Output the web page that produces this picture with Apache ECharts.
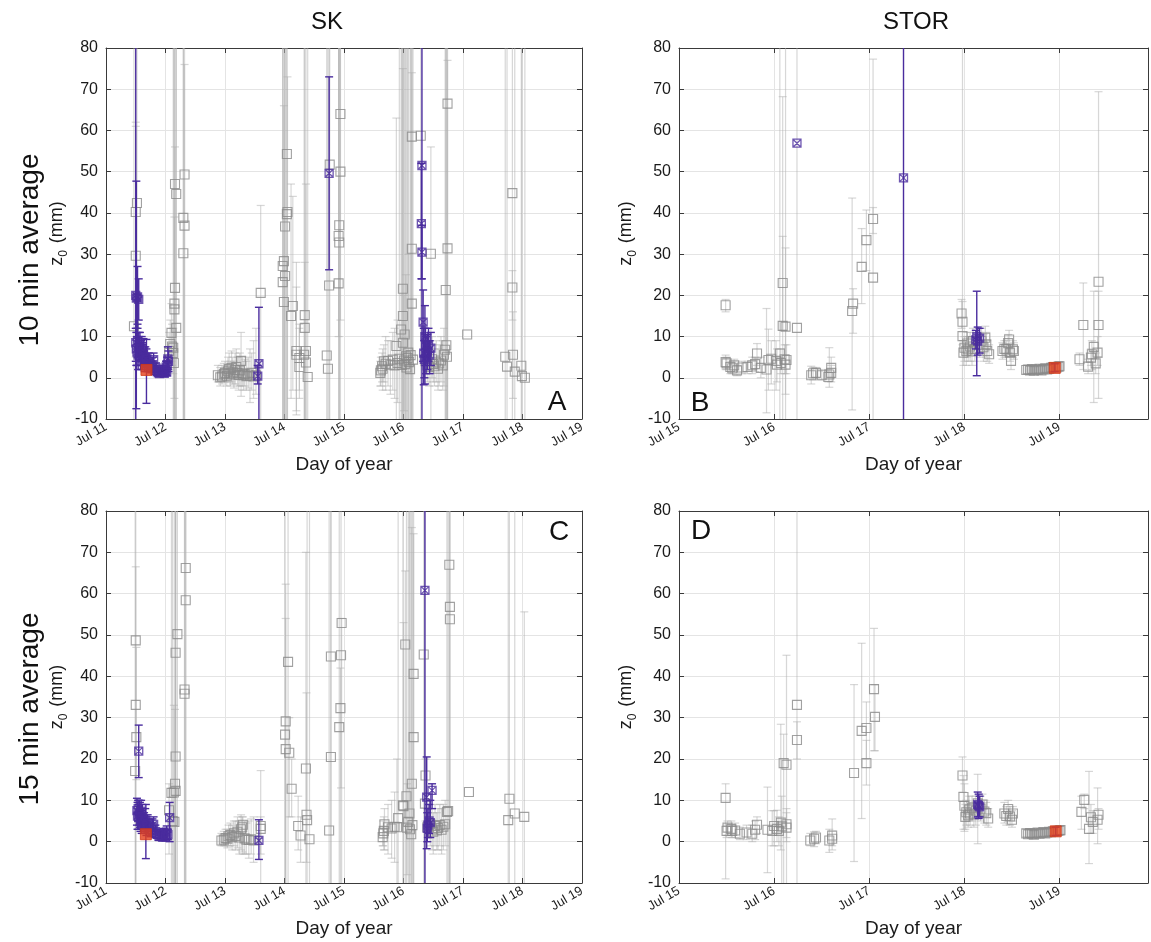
<!DOCTYPE html>
<html>
<head>
<meta charset="utf-8">
<script src="https://cdn.jsdelivr.net/npm/echarts@6/dist/echarts.min.js"></script>
<style>
  html, body { margin: 0; padding: 0; background: #ffffff; }
  #chart { width: 1151px; height: 942px; }
</style>
</head>
<body>
<div id="chart"></div>
<script>
// Roughness length z0 (mm) against day of July, with error bars.
// Each row: [day of July, z0, lower bound, upper bound]

// ---- SK, 10 min average ----
const skTenGrey = [
  [11.47, 12.5, -20, 200], [11.50, 40.2, -20, 61], [11.52, 42.4, 10, 200], [11.50, 29.6, 5, 62],
  [12.06, 6.5, 2, 11], [12.08, 8.2, 3, 14], [12.10, 10.9, 4, 18], [12.11, 7.6, 3, 13],
  [12.13, 7.3, -20, 200], [12.13, 6.0, 1, 12], [12.14, 3.6, -20, 200], [12.15, 18.0, -20, 200],
  [12.15, 16.6, -5, 39], [12.16, 21.8, -20, 56], [12.16, 47.0, -20, 200], [12.18, 44.6, -20, 200],
  [12.18, 12.1, -20, 200], [12.30, 30.2, -20, 200], [12.30, 38.8, -20, 200], [12.32, 36.9, -20, 76],
  [12.32, 49.3, -20, 200],
  [12.88, 0.6, -1, 3], [12.92, 0.1, -2, 2.5], [12.95, 0.3, -1.5, 3], [12.98, 0.9, -1, 3.5],
  [13.00, 1.2, -0.5, 4], [13.03, 0.5, -2, 3], [13.05, 1.6, -1, 5], [13.07, 2.1, -1, 6],
  [13.09, 1.0, -2, 4], [13.11, 2.4, -1, 6.5], [13.13, 1.3, -1.5, 5], [13.15, 0.8, -2.5, 4],
  [13.17, 1.9, -1.5, 6], [13.19, 2.6, -0.5, 7], [13.21, 1.2, -2, 5], [13.23, 0.7, -3, 5],
  [13.25, 1.8, -2, 6], [13.27, 4.1, -4.5, 11], [13.29, 1.1, -2, 5], [13.31, 0.6, -3, 4],
  [13.33, 0.9, -2, 4.5], [13.36, 0.4, -3, 4], [13.39, 0.8, -2.5, 5], [13.42, 0.5, -6, 7],
  [13.45, 1.2, -3, 6], [13.48, 0.3, -5, 9], [13.52, 0.6, -4, 12], [13.60, 20.6, -20, 41.8],
  [13.97, 27.1, -20, 200], [13.99, 28.3, -20, 66], [14.01, 24.7, -20, 200], [13.97, 23.2, -20, 200],
  [13.99, 18.4, -20, 200], [14.01, 36.7, -20, 200], [14.04, 39.7, -20, 200], [14.05, 40.2, -20, 73],
  [14.04, 54.3, -20, 200], [14.11, 15.0, -5, 47], [14.14, 17.4, -3, 44], [14.20, 6.5, -8, 22],
  [14.20, 5.6, -9, 28], [14.25, 4.8, -3, 13], [14.25, 2.6, -5, 12], [14.33, 5.6, -20, 200],
  [14.34, 15.2, -20, 200], [14.34, 12.1, -20, 28], [14.36, 6.5, -20, 47], [14.36, 3.7, -20, 200],
  [14.39, 0.2, -20, 200],
  [14.71, 5.4, -20, 200], [14.73, 2.2, -20, 200], [14.75, 22.4, -20, 200], [14.76, 51.7, -20, 200],
  [14.91, 22.9, -20, 200], [14.91, 34.4, 10, 200], [14.92, 32.8, -20, 200], [14.92, 37.0, -20, 200],
  [14.94, 50.0, -20, 200], [14.94, 64.0, 14, 200],
  [15.61, 1.2, -2, 4], [15.62, 1.8, -2, 5], [15.64, 2.8, -1, 6], [15.65, 2.2, -3, 7],
  [15.67, 4.0, -1, 8], [15.70, 3.4, -3, 10], [15.74, 4.1, -2, 9], [15.78, 3.2, -4, 9],
  [15.82, 4.4, -3, 11], [15.85, 3.0, -5, 12], [15.88, 7.7, -20, 63], [15.90, 3.6, -6, 14],
  [15.93, 4.6, -20, 200], [15.96, 11.7, -20, 200], [15.97, 3.1, -20, 200], [15.99, 15.0, -20, 75],
  [15.99, 21.6, -20, 200], [15.99, 8.5, -20, 200], [16.01, 4.2, -8, 20], [16.02, 10.5, -20, 200],
  [16.03, 3.3, -20, 200], [16.04, 5.2, -10, 25], [16.05, 2.5, -20, 200], [16.07, 4.8, -20, 200],
  [16.08, 6.1, -20, 200], [16.09, 3.8, -12, 30], [16.11, 2.1, -20, 200], [16.12, 5.5, -20, 200],
  [16.14, 58.5, -20, 200], [16.14, 31.3, -20, 74], [16.14, 18.0, -20, 200], [16.16, 4.4, -20, 200],
  [16.29, 58.7, -20, 200],
  [16.37, 4.0, 0, 10], [16.40, 3.0, -1, 8], [16.43, 2.6, -2, 7], [16.46, 30.1, -20, 56],
  [16.48, 4.5, 0, 10], [16.50, 3.3, -1, 8], [16.52, 2.8, -2, 7], [16.55, 3.9, -1, 9],
  [16.58, 2.2, -3, 7], [16.60, 3.5, -2, 8], [16.63, 4.2, -1, 10], [16.66, 3.0, -3, 9],
  [16.68, 5.6, -2, 12], [16.70, 6.8, -20, 200], [16.71, 21.3, -20, 200], [16.72, 7.9, -20, 200],
  [16.73, 5.1, -20, 200], [16.74, 31.4, -20, 77], [16.74, 66.5, -20, 200], [17.07, 10.5, 10.5, 10.5],
  [17.71, 5.1, -20, 200], [17.74, 2.7, -20, 200], [17.83, 44.8, -20, 200], [17.83, 21.9, 14, 26],
  [17.84, 5.6, -5, 16], [17.87, 1.5, -20, 200], [17.98, 2.9, -20, 200], [17.99, 0.4, -20, 200],
  [18.04, 0.0, -20, 200]
];
const skTenSel = [
  [11.50, 20.0, -20, 200], [11.51, 19.3, -7.5, 47.7], [11.53, 19.6, 12, 27], [11.55, 19.0, 14, 24],
  [11.50, 8.5, 4, 12], [11.51, 7.0, 3, 11], [11.52, 6.2, 3, 10], [11.53, 9.0, 5, 13],
  [11.54, 5.5, 2, 9], [11.55, 7.5, 4, 11], [11.56, 6.8, 4, 10], [11.57, 8.2, 5, 11],
  [11.58, 5.0, 2, 8], [11.59, 6.0, 3, 9], [11.60, 7.2, 4, 10], [11.61, 4.8, 2, 8],
  [11.62, 5.6, 3, 8.5], [11.63, 6.5, 3.5, 9.5], [11.64, 4.2, 2, 6.5], [11.65, 3.8, 1.5, 6],
  [11.66, 5.0, 2.5, 7.5], [11.68, 4.5, 2, 7], [11.70, 3.5, 1.5, 5.5], [11.72, 4.0, 2, 6],
  [11.74, 3.0, 1.5, 4.5], [11.76, 2.6, 1.2, 4], [11.78, 3.2, 1.5, 5], [11.80, 4.4, 2.5, 6],
  [11.82, 1.8, 0.8, 3], [11.84, 2.4, 1.2, 3.6], [11.86, 1.5, 0.6, 2.5], [11.88, 1.2, 0.4, 2.2],
  [11.90, 1.0, 0.3, 2], [11.92, 1.6, 0.7, 2.6], [11.94, 1.3, 0.5, 2.3], [11.96, 2.0, 1, 3],
  [11.98, 1.1, 0.3, 2.1], [12.00, 1.8, 0.8, 3], [12.01, 2.6, 1.2, 4], [12.02, 1.4, 0.5, 2.5],
  [12.03, 3.2, 1.5, 5], [12.04, 4.6, 2, 7.5], [12.05, 4.0, 1.5, 6.5],
  [13.55, 0.4, -1.5, 3], [13.57, 3.4, -20, 17.1],
  [14.75, 49.6, 26.2, 73.0],
  [16.31, 51.5, -20, 200], [16.30, 37.4, 24, 52], [16.31, 30.5, 24, 37], [16.33, 13.5, 4, 21.3],
  [16.36, 10.0, -1.5, 17.5], [16.34, 6.0, -1.7, 12], [16.35, 4.5, 0, 9], [16.37, 7.8, 3, 12],
  [16.38, 5.2, 1, 10], [16.40, 6.4, 2, 10.5], [16.42, 8.0, 4, 12], [16.44, 5.5, 1, 9],
  [16.46, 7.2, 3, 11]
];
const skTenRef = [[11.68, 1.9, -6.2, 9.3]];

// ---- STOR, 10 min average ----
const storTenGrey = [
  [15.49, 17.6, 16, 19], [15.49, 3.8, 2, 5.5], [15.50, 3.5, 2, 5], [15.54, 2.6, 1, 4],
  [15.56, 2.3, 1, 3.8], [15.58, 3.0, 1.5, 4.5], [15.61, 1.8, 0.5, 3], [15.66, 2.5, 1, 4],
  [15.72, 2.6, 1, 4], [15.77, 3.0, 1, 5], [15.80, 3.3, 1.5, 5], [15.82, 5.9, 3, 8.3],
  [15.86, 2.4, 0, 5], [15.92, 2.0, -8.5, 16.8], [15.94, 4.3, -3, 11.8], [15.97, 4.6, -1.5, 9],
  [16.02, 4.1, -3, 9], [16.03, 3.2, -1, 7], [16.06, 5.9, -30, 200], [16.07, 3.6, 1, 7],
  [16.09, 23.0, 11.5, 34.3], [16.09, 12.6, -30, 68.2], [16.12, 12.4, -4, 31.5], [16.11, 4.5, 1, 8],
  [16.12, 3.2, -30, 200], [16.13, 4.3, 1, 8], [16.24, 12.1, -30, 200],
  [16.39, 0.6, -1.5, 2.8], [16.41, 1.1, -0.5, 2.5], [16.44, 1.2, 0, 2.5], [16.50, 0.6, -0.5, 2],
  [16.57, 0.2, -1, 2], [16.58, 0.8, -2.3, 7.3], [16.60, 2.4, 0, 5], [16.60, 1.2, -1, 3],
  [16.82, 16.2, -7.8, 43.6], [16.83, 18.0, 10.8, 21.6], [16.92, 26.9, 18, 36.2], [16.97, 33.4, 26, 40.7],
  [17.04, 38.5, 35, 41.3], [17.04, 24.3, -30, 77.3],
  [17.97, 15.6, 12, 19], [17.98, 13.6, 8, 18.5], [17.98, 10.1, -30, 200], [17.99, 6.1, 3, 9],
  [18.00, 7.3, 4, 10], [18.02, 6.5, 3, 10], [18.03, 8.3, 5, 11], [18.04, 6.9, 4, 10],
  [18.06, 7.6, 4, 11], [18.08, 6.4, 3, 10], [18.09, 8.9, 6, 12], [18.11, 7.0, 4, 10],
  [18.16, 8.0, 5, 11], [18.18, 9.0, 6, 12], [18.20, 7.4, 4, 10.5], [18.22, 9.7, 7, 12.5],
  [18.23, 8.1, 5, 11], [18.24, 6.5, 4, 9], [18.26, 5.7, 3.5, 8],
  [18.40, 6.5, 4.5, 8.5], [18.42, 7.0, 5, 9], [18.44, 6.9, 5, 9], [18.46, 8.4, 6, 10.5],
  [18.47, 9.3, 7, 11.5], [18.48, 6.1, 4, 8], [18.49, 4.1, 2, 6], [18.51, 6.9, 5, 9],
  [18.52, 6.5, 4.5, 8.5],
  [18.65, 1.9, 1, 3], [18.67, 2.0, 1, 3], [18.69, 1.8, 1, 2.8], [18.71, 2.1, 1.2, 3],
  [18.73, 1.7, 0.9, 2.6], [18.75, 2.0, 1.1, 3], [18.77, 1.9, 1, 2.8], [18.79, 2.2, 1.2, 3.2],
  [18.81, 1.8, 1, 2.7], [18.83, 2.1, 1.2, 3], [18.85, 2.3, 1.4, 3.2], [18.87, 2.0, 1.1, 3],
  [18.89, 2.2, 1.3, 3.2], [18.91, 2.4, 1.5, 3.4], [18.93, 2.6, 1.6, 3.6], [18.97, 2.5, 1.5, 3.5],
  [18.99, 2.7, 1.7, 3.8], [19.00, 2.8, 1.8, 3.9],
  [19.21, 4.5, 3, 6], [19.25, 12.8, 2, 23], [19.30, 2.7, 1, 4.5], [19.33, 4.9, 3, 7],
  [19.34, 5.7, 2, 9], [19.36, 7.5, -6, 21], [19.38, 3.5, 1, 6], [19.40, 6.1, 3, 10],
  [19.41, 12.8, 5, 21], [19.41, 23.3, -5, 69.4]
];
const storTenSel = [
  [16.24, 56.9, 56.9, 56.9], [17.36, 48.5, -30, 200],
  [18.13, 10.0, 0.5, 21], [18.14, 8.9, 5.5, 12.3], [18.16, 9.6, 6, 12], [18.12, 9.2, 7, 11.5]
];
const storTenRef = [[18.95, 2.4, 1.5, 3.4]];

// ---- SK, 15 min average ----
const skFifteenGrey = [
  [11.49, 17.1, -20, 200], [11.50, 33.1, -20, 66.5], [11.50, 48.7, -20, 200], [11.51, 25.3, 15, 47],
  [12.06, 7.6, -3, 14], [12.10, 11.8, -20, 200], [12.12, 5.0, -20, 200], [12.14, 11.9, -20, 33],
  [12.15, 4.8, -20, 200], [12.16, 14.0, -20, 32], [12.17, 12.3, -20, 200], [12.17, 20.6, -20, 200],
  [12.17, 45.7, -20, 200], [12.20, 50.2, -20, 200], [12.32, 35.8, -20, 200], [12.32, 36.8, -20, 200],
  [12.34, 66.2, -20, 200], [12.34, 58.4, -20, 200],
  [12.94, 0.3, -1, 2], [12.98, 0.5, -1, 2.5], [13.01, 0.9, -1, 3], [13.04, 0.7, -1.5, 3],
  [13.06, 1.3, -1, 4], [13.09, 1.6, -1, 4.5], [13.12, 1.1, -2, 4], [13.15, 2.0, -1, 5],
  [13.18, 1.4, -2, 5], [13.21, 2.4, -1.5, 6], [13.24, 1.0, -3, 5], [13.27, 3.0, -2, 6.5],
  [13.29, 3.5, -2.5, 6], [13.30, 4.1, -3, 6], [13.33, 0.8, -3, 5], [13.36, 0.5, -3, 4.5],
  [13.40, 0.4, -4, 5], [13.44, 0.6, -3, 5.5], [13.48, 0.3, -5, 6], [13.60, 3.8, -20, 17.2],
  [13.60, 3.1, -3, 6],
  [14.01, 25.9, -20, 200], [14.02, 29.1, -10, 62.3], [14.02, 22.4, -20, 54], [14.06, 43.5, -20, 200],
  [14.08, 21.5, 6, 30], [14.12, 12.8, 6, 20], [14.23, 3.8, -2, 11], [14.27, 1.5, -5, 6],
  [14.36, 17.7, -20, 70], [14.37, 6.5, -5, 36], [14.38, 5.2, -20, 200], [14.42, 0.6, -20, 200],
  [14.75, 2.7, -20, 200], [14.78, 44.8, -20, 200], [14.78, 20.5, -20, 200], [14.92, 27.7, -20, 200],
  [14.94, 32.3, -20, 42], [14.95, 45.1, 13, 200], [14.96, 52.9, -20, 54],
  [15.65, 1.1, -1, 3.5], [15.66, 2.0, -1, 5], [15.67, 2.6, -2, 6], [15.68, 4.2, -2, 8],
  [15.74, 3.5, -3, 9], [15.80, 3.2, -4, 10], [15.85, 3.6, -5, 12], [15.89, 3.5, -20, 20],
  [15.91, 5.7, -20, 200], [15.99, 8.8, -20, 200], [16.00, 8.6, -20, 53], [16.03, 47.7, -20, 65.5],
  [16.05, 11.0, -20, 200], [16.06, 3.4, -8, 14], [16.08, 4.8, -20, 200], [16.10, 6.8, -20, 200],
  [16.11, 3.0, -20, 200], [16.13, 1.8, -20, 200], [16.14, 14.0, -20, 76], [16.15, 4.0, -20, 200],
  [16.17, 40.6, -20, 200], [16.17, 25.3, -20, 74.5], [16.34, 45.3, -20, 200], [16.36, 9.2, -20, 200],
  [16.37, 16.0, 5, 20],
  [16.40, 3.5, 0, 8], [16.45, 4.2, -1, 9], [16.48, 3.0, -2, 8], [16.50, 2.4, -3, 7],
  [16.53, 3.8, -1, 9], [16.56, 2.7, -2, 7], [16.58, 3.3, -2, 8], [16.61, 4.0, -1, 9],
  [16.64, 2.9, -3, 8], [16.67, 3.6, -2, 9], [16.70, 4.2, -1, 10], [16.73, 7.2, -20, 200],
  [16.75, 7.4, -20, 200], [16.77, 67.0, -20, 200], [16.78, 56.8, -20, 200], [16.78, 53.8, -20, 200],
  [17.10, 12.0, 12, 12],
  [17.76, 5.2, -20, 200], [17.78, 10.4, -20, 200], [17.87, 6.8, -20, 200], [18.03, 6.0, -20, 55.6]
];
const skFifteenSel = [
  [11.55, 21.9, 15.5, 28.2],
  [11.52, 7.5, 4, 10.5], [11.53, 6.2, 3, 9.5], [11.54, 8.0, 5, 10], [11.55, 5.8, 3, 9],
  [11.56, 7.0, 4, 10], [11.57, 6.5, 3.5, 9.5], [11.58, 5.2, 2.5, 8], [11.59, 7.4, 4.5, 10],
  [11.60, 4.8, 2, 7.5], [11.61, 6.1, 3, 9], [11.62, 5.5, 3, 8], [11.64, 4.6, 2, 7],
  [11.66, 5.2, 2.5, 8], [11.68, 3.9, 1.5, 6], [11.70, 4.4, 2, 6.5], [11.72, 3.4, 1.5, 5.5],
  [11.75, 2.8, 1.2, 4.5], [11.78, 3.6, 1.8, 5.5], [11.80, 4.2, 2.5, 6], [11.83, 2.4, 1, 4],
  [11.86, 1.8, 0.8, 3], [11.89, 1.3, 0.3, 2.5], [11.92, 1.6, 0.6, 2.8], [11.95, 1.1, 0.2, 2.2],
  [11.97, 2.0, 0.8, 3.2], [12.00, 1.4, 0.2, 2.8], [12.02, 2.3, 0.8, 3.8], [12.04, 1.7, 0.5, 3],
  [12.07, 5.8, 0, 9.5],
  [13.57, 0.3, -4.3, 5.3],
  [16.36, 60.8, -20, 200], [16.39, 10.8, -1.7, 20.5], [16.41, 4.0, 1, 8], [16.43, 5.0, 2, 9],
  [16.40, 3.2, 0, 7], [16.48, 12.4, 8, 14], [16.45, 4.6, 1, 10]
];
const skFifteenRef = [[11.67, 1.8, -4.1, 9.0]];

// ---- STOR, 15 min average ----
const storFifteenGrey = [
  [15.49, 10.6, -9, 14], [15.50, 2.6, 1, 4], [15.51, 3.4, 1.5, 5], [15.55, 3.1, 1, 5],
  [15.56, 2.6, 1, 4], [15.59, 2.7, 1, 4.5], [15.64, 1.9, 0.5, 3.5], [15.71, 2.2, 0.5, 4],
  [15.77, 1.9, 0, 4], [15.80, 2.9, 0.5, 5], [15.82, 4.1, 2, 6], [15.93, 2.9, -7.5, 13.2],
  [15.98, 2.6, -1, 7.5], [16.00, 3.8, -1, 7.5], [16.03, 3.1, 0, 7.6], [16.05, 2.6, -1, 6],
  [16.07, 4.6, -2, 28.4], [16.08, 3.7, -30, 11], [16.10, 19.0, -30, 26], [16.13, 3.4, 0, 8],
  [16.13, 18.6, -30, 45.1], [16.13, 4.2, 1, 7], [16.24, 33.1, -30, 200], [16.24, 24.6, 20, 29],
  [16.38, 0.3, -1, 2], [16.42, 0.7, -1.2, 2.4], [16.44, 1.0, -0.5, 2.5], [16.58, 0.3, -2.6, 3],
  [16.61, 1.5, -2, 5.5], [16.61, 0.7, -1, 2.5],
  [16.84, 16.6, -4.8, 38], [16.92, 26.8, 5.6, 48], [16.97, 27.5, 20, 33.8], [16.97, 19.0, 13.7, 24.5],
  [17.05, 36.9, 22, 51.6], [17.06, 30.2, 22, 38],
  [17.98, 16.0, 12, 20.5], [17.99, 10.8, 3, 16], [18.00, 8.7, 2.5, 14], [18.01, 6.0, 3, 9],
  [18.02, 7.1, 4, 10], [18.04, 6.4, 3.5, 9], [18.05, 7.8, 5, 11], [18.06, 6.8, 4, 9.5],
  [18.08, 8.2, 5, 11], [18.10, 6.6, 3.5, 9.5], [18.12, 7.5, 4, 11], [18.14, 9.3, -0.5, 16.3],
  [18.17, 8.0, 5, 11], [18.19, 9.0, 6, 11.5], [18.21, 7.3, 4.5, 10], [18.23, 6.9, 4, 9.5],
  [18.25, 5.6, 3.5, 8],
  [18.42, 6.8, 4.5, 9.5], [18.44, 6.2, 4, 8.5], [18.46, 7.9, 5.5, 10], [18.48, 6.1, 4, 8.5],
  [18.50, 5.3, 3.5, 7.5], [18.51, 6.8, 5, 8.5],
  [18.65, 2.0, 1.2, 3], [18.67, 1.8, 1, 2.8], [18.69, 2.1, 1.2, 3], [18.71, 1.9, 1, 2.9],
  [18.73, 1.7, 0.9, 2.6], [18.75, 2.0, 1.1, 3], [18.77, 2.2, 1.3, 3.1], [18.79, 1.9, 1, 2.8],
  [18.81, 2.1, 1.2, 3], [18.83, 2.3, 1.4, 3.2], [18.85, 2.0, 1.1, 3], [18.87, 2.2, 1.3, 3.2],
  [18.89, 2.4, 1.5, 3.3], [18.91, 2.3, 1.4, 3.3], [18.93, 2.5, 1.5, 3.5], [18.98, 2.6, 1.6, 3.6],
  [19.00, 2.7, 1.7, 3.7], [19.01, 2.8, 1.8, 3.8],
  [19.23, 7.2, 3, 11], [19.26, 10.1, 8, 11.5], [19.31, 3.1, -5.3, 17], [19.33, 5.9, 2, 9],
  [19.35, 4.8, 2, 7.5], [19.40, 5.3, -0.5, 13], [19.41, 6.5, 3, 8]
];
const storFifteenSel = [[18.15, 8.7, 5.6, 11.5], [18.16, 8.4, 6, 11], [18.14, 9.0, 6, 12]];
const storFifteenRef = [[18.96, 2.5, 1.5, 3.5]];

// Axis ranges: [min, max] in day of July, and z0 [min, max, step]
const skDayTicks = [11, 19];
const storDayTicks = [15, 19.93];
const zTicks = [-10, 80, 10];

const FONT = '"Liberation Sans", Arial, Helvetica, sans-serif';
const GREY_MARK = '#8a8a8a';
const GREY_BAR = 'rgba(175,175,175,0.5)';
const SEL = '#4a2c9e';
const REF = '#e5401a';

// vertical error bar with caps, clipped to the plot box
function errorBars(color, lineWidth, capHalf) {
  return function (params, api) {
    const x = api.value(0), lo = api.value(1), hi = api.value(2);
    if (hi - lo < 1e-6) return null;
    const pLo = api.coord([x, lo]);
    const pHi = api.coord([x, hi]);
    const cs = params.coordSys;
    const top = cs.y, bottom = cs.y + cs.height;
    const y1 = Math.max(top, pHi[1]);
    const y2 = Math.min(bottom, pLo[1]);
    if (y2 <= y1) return null;
    const style = { stroke: color, lineWidth: lineWidth };
    const children = [{ type: 'line', shape: { x1: pLo[0], y1: y1, x2: pLo[0], y2: y2 }, style: style }];
    if (pHi[1] > top + 0.5) children.push({ type: 'line', shape: { x1: pHi[0] - capHalf, y1: pHi[1], x2: pHi[0] + capHalf, y2: pHi[1] }, style: style });
    if (pLo[1] < bottom - 0.5) children.push({ type: 'line', shape: { x1: pLo[0] - capHalf, y1: pLo[1], x2: pLo[0] + capHalf, y2: pLo[1] }, style: style });
    return { type: 'group', children: children };
  };
}

const panels = [
  { grey: skTenGrey, sel: skTenSel, ref: skTenRef, days: skDayTicks, box: { left: 106, top: 48, width: 476, height: 371 }, nameGap: 36 },
  { grey: storTenGrey, sel: storTenSel, ref: storTenRef, days: storDayTicks, box: { left: 679, top: 48, width: 469, height: 371 }, nameGap: 40 },
  { grey: skFifteenGrey, sel: skFifteenSel, ref: skFifteenRef, days: skDayTicks, box: { left: 106, top: 511, width: 476, height: 372 }, nameGap: 36 },
  { grey: storFifteenGrey, sel: storFifteenSel, ref: storFifteenRef, days: storDayTicks, box: { left: 679, top: 511, width: 469, height: 372 }, nameGap: 40 }
];

const grids = [], xAxes = [], yAxes = [], series = [];
const frame = { show: true, onZero: false, lineStyle: { color: '#3a3a3a', width: 1 } };
const tickIn = { show: true, inside: true, length: 5, lineStyle: { color: '#3a3a3a', width: 1 } };
const gridLine = { show: true, lineStyle: { color: '#e4e4e4', width: 1 } };

panels.forEach(function (p, i) {
  grids.push(Object.assign({ containLabel: false }, p.box));
  const xBase = { type: 'value', gridIndex: i, min: p.days[0], max: p.days[1], interval: 1 };
  xAxes.push(Object.assign({}, xBase, {
    position: 'bottom',
    name: 'Day of year', nameLocation: 'middle', nameGap: 36,
    nameTextStyle: { fontSize: 19, color: '#1a1a1a', fontFamily: FONT },
    axisLine: frame, axisTick: tickIn, splitLine: gridLine,
    axisLabel: {
      rotate: 30, fontSize: 13, color: '#1a1a1a', fontFamily: FONT, margin: 7,
      formatter: function (v) { return Number.isInteger(v) ? 'Jul ' + v : ''; }
    }
  }));
  xAxes.push(Object.assign({}, xBase, {
    position: 'top', axisLine: frame, axisTick: tickIn, axisLabel: { show: false }, splitLine: { show: false }
  }));
  const yBase = { type: 'value', gridIndex: i, min: zTicks[0], max: zTicks[1], interval: zTicks[2] };
  yAxes.push(Object.assign({}, yBase, {
    position: 'left',
    name: '{z|z}{s|0}{u| (mm)}', nameLocation: 'middle', nameRotate: 90, nameGap: p.nameGap,
    nameTextStyle: {
      color: '#1a1a1a', fontFamily: FONT,
      rich: {
        z: { fontSize: 18, fontFamily: FONT, color: '#1a1a1a', lineHeight: 26, verticalAlign: 'middle' },
        s: { fontSize: 12, fontFamily: FONT, color: '#1a1a1a', lineHeight: 26, verticalAlign: 'bottom', padding: [0, 2, 0, 0] },
        u: { fontSize: 18, fontFamily: FONT, color: '#1a1a1a', lineHeight: 26, verticalAlign: 'middle' }
      }
    },
    axisLine: frame, axisTick: tickIn, splitLine: gridLine,
    axisLabel: { fontSize: 16, color: '#1a1a1a', fontFamily: FONT, margin: 8 }
  }));
  yAxes.push(Object.assign({}, yBase, {
    position: 'right', axisLine: frame, axisTick: tickIn, axisLabel: { show: false }, splitLine: { show: false }
  }));

  const xi = 2 * i, yi = 2 * i;
  const bars = function (rows) { return rows.map(function (r) { return [r[0], r[2], r[3]]; }); };
  const pts = function (rows) { return rows.map(function (r) { return [r[0], r[1]]; }); };

  series.push({
    type: 'custom', xAxisIndex: xi, yAxisIndex: yi, silent: true, z: 2,
    renderItem: errorBars(GREY_BAR, 1.2, 4), encode: { x: 0, y: [1, 2] }, data: bars(p.grey)
  });
  series.push({
    type: 'scatter', xAxisIndex: xi, yAxisIndex: yi, silent: true, z: 3,
    symbol: 'rect', symbolSize: 9,
    itemStyle: { color: 'rgba(0,0,0,0)', borderColor: GREY_MARK, borderWidth: 1.1 },
    data: pts(p.grey)
  });
  series.push({
    type: 'custom', xAxisIndex: xi, yAxisIndex: yi, silent: true, z: 4,
    renderItem: errorBars(SEL, 1.4, 4), encode: { x: 0, y: [1, 2] }, data: bars(p.sel.concat(p.ref))
  });
  series.push({
    type: 'scatter', xAxisIndex: xi, yAxisIndex: yi, silent: true, z: 5,
    symbol: 'path://M0,0L10,0L10,10L0,10Z M0,0L10,10 M10,0L0,10', symbolSize: 8,
    itemStyle: { color: 'rgba(0,0,0,0)', borderColor: SEL, borderWidth: 1.3 },
    data: pts(p.sel)
  });
  series.push({
    type: 'scatter', xAxisIndex: xi, yAxisIndex: yi, silent: true, z: 6,
    symbol: 'rect', symbolSize: 11,
    itemStyle: { color: REF, borderColor: '#d23a18', borderWidth: 1 },
    data: pts(p.ref)
  });
});

const txt = function (text, x, y, size, rot) {
  return {
    type: 'text', x: x, y: y, rotation: rot || 0, silent: true, z: 10,
    style: { text: text, fontSize: size, fontFamily: FONT, fill: '#111', align: 'center', verticalAlign: 'middle' }
  };
};

const chart = echarts.init(document.getElementById('chart'), null, { renderer: 'canvas', width: 1151, height: 942 });
chart.setOption({
  backgroundColor: '#ffffff',
  animation: false,
  grid: grids,
  xAxis: xAxes,
  yAxis: yAxes,
  series: series,
  graphic: [
    txt('SK', 327, 22, 24),
    txt('STOR', 916, 22, 24),
    txt('10 min average', 30, 250, 28, Math.PI / 2),
    txt('15 min average', 30, 709, 28, Math.PI / 2),
    txt('A', 557, 402, 28),
    txt('B', 700, 403, 28),
    txt('C', 559, 532, 28),
    txt('D', 701, 531, 28)
  ]
});
</script>
</body>
</html>
